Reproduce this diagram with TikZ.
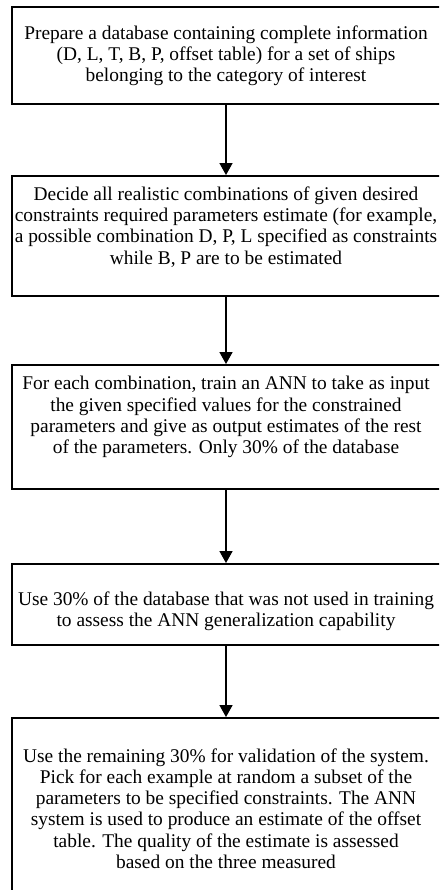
\documentclass[tikz,border=0pt]{standalone}
\usepackage{fontspec}
\setmainfont{Liberation Serif}
\usetikzlibrary{arrows.meta}

\tikzset{
  stepbox/.style={draw, line width=1.9pt, rectangle, minimum width=434pt, inner sep=0pt},
  steptext/.style={align=center, inner sep=0pt, font=\fontsize{19.4}{21.2}\selectfont},
  flow/.style={line width=1.5pt, -{Triangle[width=13pt,length=12pt]}}
}

\begin{document}
\begin{tikzpicture}[x=1pt, y=1pt]
  \useasboundingbox (0,0) rectangle (439,-890);
  \clip (0,0) rectangle (439,-890);

  % boxes (right and lower edges run past the page)
  \node[stepbox, minimum height=97pt]  (b1) at (229,-55.5) {};
  \node[stepbox, minimum height=120pt] (b2) at (229,-236) {};
  \node[stepbox, minimum height=124pt] (b3) at (229,-427) {};
  \node[stepbox, minimum height=81pt]  (b4) at (229,-604.5) {};
  \node[stepbox, minimum height=200pt] (b5) at (229,-818) {};

  % texts
  \node[steptext] (t1) at (226,-55.5) {Prepare a database containing complete information\\
    (D, L, T, B, P, offset table) for a set of ships\\
    belonging to the category of interest};
  \node[steptext] (t2) at (226,-227) {Decide all realistic combinations of given desired\\
    constraints required parameters estimate (for example,\\
    a possible combination D, P, L specified as constraints\\
    while B, P are to be estimated};
  \node[steptext] (t3) at (226,-417) {For each combination, train an ANN to take as input\\
    the given specified values for the constrained\\
    parameters and give as output estimates of the rest\\
    of the parameters. Only 30\% of the database};
  \node[steptext] (t4) at (226,-611) {Use 30\% of the database that was not used in training\\
    to assess the ANN generalization capability};
  \node[steptext] (t5) at (226,-808.5) {Use the remaining 30\% for validation of the system.\\
    Pick for each example at random a subset of the\\
    parameters to be specified constraints. The ANN\\
    system is used to produce an estimate of the offset\\
    table. The quality of the estimate is assessed\\
    based on the three measured};

  % connectors, on the axis of the texts
  \draw[flow] (t1 |- b1.south) -- (t1 |- b2.north);
  \draw[flow] (t2 |- b2.south) -- (t2 |- b3.north);
  \draw[flow] (t3 |- b3.south) -- (t3 |- b4.north);
  \draw[flow] (t4 |- b4.south) -- (t4 |- b5.north);
\end{tikzpicture}
\end{document}
